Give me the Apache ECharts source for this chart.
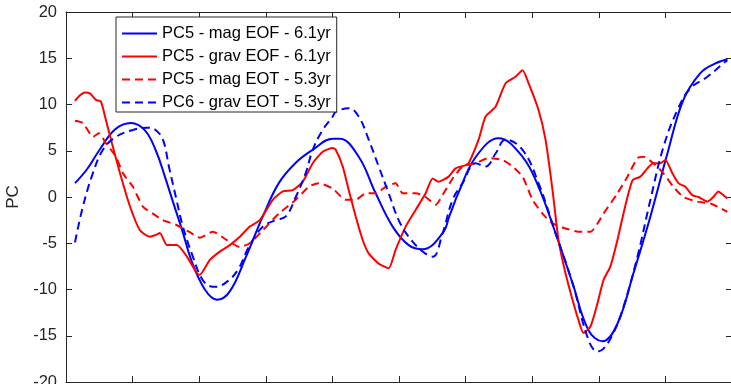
<!DOCTYPE html>
<html>
<head>
<meta charset="utf-8">
<script src="https://cdn.jsdelivr.net/npm/echarts@6/dist/echarts.min.js"></script>
<style>
  html, body { margin: 0; padding: 0; background: #fff; }
  #pc { width: 731px; height: 384px; }
</style>
</head>
<body>
<div id="pc"></div>
<script>
// series names as in the legend
var names = ['PC5 - mag EOF - 6.1yr', 'PC5 - grav EOF - 6.1yr', 'PC5 - mag EOT - 5.3yr', 'PC6 - grav EOT - 5.3yr'];
var yTicks = [-20, -15, -10, -5, 0, 5, 10, 15, 20];

// [time, PC]
var magEof = [
  [1.35, 1.5], [3.15, 3.0], [4.95, 5.0], [7.35, 7.3], [9.75, 8.0], [11.85, 7.2], [13.5, 5.0],
  [14.85, 2.2], [16.05, -0.5], [17.4, -3.5], [18.9, -7.0], [20.85, -10.0], [22.65, -11.1],
  [24.6, -10.2], [27.0, -6.5], [29.55, -2.1], [31.95, 1.5], [34.5, 3.7], [37.05, 5.1],
  [40.05, 6.3], [41.1, 6.3], [43.95, 4.35], [46.5, 0.4], [49.05, -3.2], [51.45, -5.2],
  [53.55, -5.65], [56.55, -3.9], [57.6, -2.0], [58.95, 0.5], [61.5, 4.3], [64.95, 6.35],
  [68.55, 4.35], [70.95, 1.1], [73.5, -3.9], [76.05, -9.3], [78.45, -14.4], [80.55, -15.6],
  [82.8, -13.7], [85.2, -8.25], [87.75, -2.1], [90.3, 4.7], [92.7, 10.5], [95.25, 13.4],
  [97.35, 14.4], [99.3, 14.9]
];
var gravEof = [
  [1.35, 10.4], [2.1, 11.0], [2.85, 11.3], [3.6, 11.2], [4.5, 10.5], [5.25, 10.3], [6.0, 8.3],
  [6.9, 5.8], [8.1, 2.6], [9.6, -1.0], [11.1, -3.6], [12.6, -4.3], [13.5, -4.1], [14.1, -3.9],
  [15.15, -5.2], [16.65, -5.2], [18.15, -6.45], [19.65, -8.25], [20.1, -8.4], [21.6, -6.8],
  [23.1, -5.9], [24.6, -5.2], [26.1, -4.3], [27.6, -3.2], [29.1, -2.5], [31.05, -0.3],
  [32.55, 0.6], [34.05, 0.75], [35.55, 1.65], [37.05, 3.65], [38.55, 4.9], [40.05, 5.3],
  [40.5, 5.1], [41.55, 3.3], [42.45, 0.75], [43.5, -2.1], [44.55, -4.65], [45.45, -6.1],
  [46.95, -7.2], [48.45, -7.7], [49.5, -5.7], [51.0, -3.2], [52.5, -1.4], [54.0, 0.4],
  [55.05, 2.0], [55.95, 1.65], [57.45, 2.2], [58.5, 3.1], [60.0, 3.45], [60.45, 3.65],
  [61.95, 6.2], [63.0, 8.7], [64.5, 9.75], [66.0, 12.3], [67.5, 13.0], [68.55, 13.7],
  [69.45, 12.3], [70.95, 9.4], [72.0, 6.2], [73.05, 0.75], [73.95, -4.65], [75.0, -8.25],
  [76.05, -11.1], [76.95, -13.3], [77.7, -14.7], [78.75, -14.0], [79.8, -11.5], [80.7, -9.0],
  [81.75, -7.5], [82.8, -4.65], [83.7, -1.8], [85.05, 1.8], [86.25, 2.2], [87.3, 3.1],
  [88.2, 3.65], [89.25, 3.65], [90.0, 4.0], [91.05, 2.56], [91.95, 1.5], [93.0, 1.1],
  [94.05, 0.2], [94.95, 0.0], [96.3, -0.5], [97.2, 0.0], [97.95, 0.6], [98.7, 0.2], [99.3, -0.15]
];
var magEot = [
  [1.35, 8.25], [2.55, 8.0], [4.05, 6.5], [4.95, 6.9], [6.0, 5.8], [7.5, 4.35], [8.55, 2.56],
  [10.05, 1.1], [11.55, -1.05], [13.05, -1.8], [14.55, -2.5], [16.5, -3.0], [18.45, -3.75],
  [20.1, -4.4], [22.05, -3.75], [24.15, -4.65], [26.1, -5.4], [27.6, -5.0], [29.55, -3.6],
  [31.95, -1.8], [34.5, -0.3], [36.45, 1.1], [37.95, 1.5], [40.05, 0.9], [42.0, -0.3],
  [43.5, -0.3], [45.0, 0.4], [46.5, 0.4], [48.0, 1.1], [49.5, 1.5], [50.55, 0.4], [52.5, 0.4],
  [54.0, 0.0], [55.5, -0.85], [56.7, 0.4], [58.05, 2.0], [59.55, 3.3], [61.5, 3.65],
  [63.45, 4.2], [65.55, 4.0], [67.05, 3.3], [68.55, 2.2], [70.05, -0.3], [71.55, -1.8],
  [73.05, -2.85], [75.0, -3.4], [76.95, -3.75], [78.75, -3.75], [80.7, -1.8], [82.8, 0.4],
  [84.3, 2.2], [85.8, 4.2], [86.7, 4.35], [88.2, 3.65], [89.7, 2.56], [91.2, 1.1], [92.7, 0.0],
  [94.8, -0.5], [96.75, -0.7], [98.25, -1.2], [99.3, -1.6]
];
var gravEot = [
  [1.35, -4.9], [2.55, -1.0], [4.05, 2.6], [5.55, 5.1], [7.5, 6.5], [10.05, 7.25], [12.15, 7.5],
  [13.35, 7.3], [14.55, 6.2], [15.45, 3.3], [16.5, 0.0], [17.55, -3.2], [19.05, -6.45],
  [20.55, -9.0], [22.05, -9.7], [22.5, -9.7], [24.45, -9.0], [25.95, -7.7], [27.45, -5.4],
  [29.55, -3.2], [31.5, -2.5], [33.0, -2.1], [34.5, 0.0], [36.0, 2.6], [37.05, 5.1],
  [38.55, 7.25], [40.05, 8.7], [40.5, 9.2], [42.45, 9.6], [43.95, 8.7], [45.45, 6.2],
  [46.95, 3.3], [48.45, 0.4], [49.95, -2.5], [51.45, -4.3], [53.55, -5.9], [55.05, -6.45],
  [56.55, -3.9], [58.05, -0.3], [59.55, 1.5], [61.5, 3.65], [63.0, 3.3], [64.5, 4.7],
  [66.0, 6.2], [68.55, 5.1], [70.95, 1.5], [73.5, -3.9], [76.05, -9.3], [78.45, -15.45],
  [79.8, -16.7], [80.7, -16.4], [82.2, -14.7], [83.7, -11.9], [85.8, -6.45], [87.75, -0.3],
  [89.7, 5.4], [91.8, 9.4], [93.75, 11.75], [96.3, 13.0], [98.7, 14.45], [99.3, 14.8]
];

var dom = document.getElementById('pc');
var myChart = echarts.init(dom, null, { renderer: 'canvas' });

var axisColor = '#262626';
var font = "'Liberation Sans', Arial, sans-serif";

function line(name, data, color, dashed, smooth) {
  return {
    name: name,
    type: 'line',
    data: data,
    symbol: 'none',
    smooth: smooth,
    lineStyle: { color: color, width: 2, type: dashed ? [8, 5] : 'solid' },
    itemStyle: { color: color }
  };
}

function frameAxis(pos) {
  return {
    type: 'value',
    position: pos,
    axisLine: { show: true, onZero: false, lineStyle: { color: axisColor } },
    axisTick: { show: true, inside: true, length: 6, lineStyle: { color: axisColor } },
    axisLabel: { show: false },
    splitLine: { show: false }
  };
}

var bottomAxis = Object.assign(frameAxis('bottom'), { min: 0, max: 100, interval: 10 });
var topAxis = Object.assign(frameAxis('top'), { min: 0, max: 100, interval: 10 });
var leftAxis = Object.assign(frameAxis('left'), {
  min: yTicks[0], max: yTicks[yTicks.length - 1], interval: 5,
  name: 'PC', nameLocation: 'middle', nameGap: 40,
  nameTextStyle: { fontSize: 17, color: axisColor, fontFamily: font },
  axisLabel: { show: true, fontSize: 16.5, color: axisColor, margin: 9, fontFamily: font }
});
var rightAxis = Object.assign(frameAxis('right'), {
  min: yTicks[0], max: yTicks[yTicks.length - 1], interval: 5
});

var option = {
  animation: false,
  textStyle: { fontFamily: font },
  grid: { left: 66, top: 12, right: -1, bottom: 2, containLabel: false, outerBoundsMode: 'none' },
  legend: {
    orient: 'vertical',
    left: 116,
    top: 17,
    data: names,
    itemWidth: 35,
    itemHeight: 14,
    itemGap: 6,
    padding: [8, 6, 1, 5],
    borderColor: axisColor,
    borderWidth: 1,
    backgroundColor: '#fff',
    itemStyle: { opacity: 0 },
    textStyle: { fontSize: 16.5, color: '#000', fontFamily: font, lineHeight: 16 }
  },
  xAxis: [bottomAxis, topAxis],
  yAxis: [leftAxis, rightAxis],
  series: [
    line(names[0], magEof, '#0000ff', false, 0.4),
    line(names[1], gravEof, '#ff0000', false, 0.2),
    line(names[2], magEot, '#ff0000', true, 0.2),
    line(names[3], gravEot, '#0000ff', true, 0.4)
  ]
};

if (option && typeof option === 'object') {
  myChart.setOption(option);
}

window.addEventListener('resize', myChart.resize);
</script>
</body>
</html>
